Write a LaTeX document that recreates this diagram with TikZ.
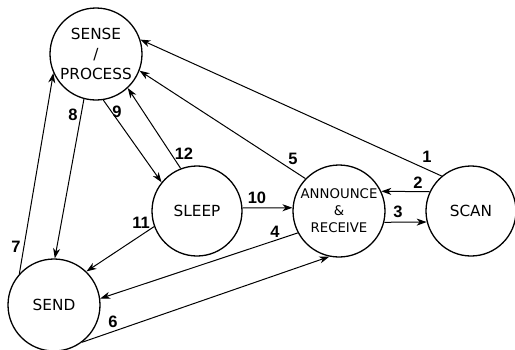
\documentclass[tikz,border=0pt]{standalone}
\usepackage{fontspec}
\setmainfont{DejaVu Sans}
\newfontfamily\lblfont{Liberation Sans}
\usetikzlibrary{arrows.meta}
\begin{document}
\begin{tikzpicture}[x=1pt,y=-1pt,
 state/.style={circle,draw,line width=1.3pt,minimum size=92pt,inner sep=0pt,align=center,font=\fontsize{15.3}{20}\selectfont},
 smallstate/.style={state,font=\fontsize{13.3}{17}\selectfont},
 edge/.style={line width=1pt,-{Stealth[length=10pt,width=7pt,inset=3pt]}},
 lbl/.style={font=\lblfont\bfseries\fontsize{16.5}{16.5}\selectfont,inner sep=0pt}]
\useasboundingbox (0,0) rectangle (515,349);
\node[state] (sense) at (96,54) {SENSE\\/\\PROCESS};
\node[state,minimum size=90pt] (sleep) at (197,211) {SLEEP};
\node[state] (send) at (54,305) {SEND};
\node[smallstate] (ann) at (339,211) {ANNOUNCE\\\&\\RECEIVE};
\node[state,minimum size=90pt] (scan) at (471,211) {SCAN};

\draw[edge] (scan.130) -- (sense.18);
\draw[edge] (scan.155) -- (ann.25);
\draw[edge] (ann.-14) -- (scan.194);
\draw[edge] (ann.136) -- (sense.-21);
\draw[edge] (ann.208) -- (send.8);
\draw[edge] (send.-53) -- (ann.-102);
\draw[edge] (send.138) -- (sense.204);
\draw[edge] (sense.255) -- (send.89);
\draw[edge] (sense.-81) -- (sleep.141);
\draw[edge] (sleep.111) -- (sense.-47);
\draw[edge] (sleep.4) -- (ann.176);
\draw[edge] (sleep.200) -- (send.46);

\node[lbl] (l1) at (427,157) {1};
\node[lbl] (l2) at (418,183) {2};
\node[lbl] (l3) at (398,212) {3};
\node[lbl] (l4) at (275,232) {4};
\node[lbl] (l5) at (293,159) {5};
\node[lbl] (l6) at (113,322) {6};
\node[lbl] (l7) at (16,247) {7};
\node[lbl] (l8) at (73,115) {8};
\node[lbl] (l9) at (117,112) {9};
\node[lbl] (l10) at (257,198) {10};
\node[lbl] (l11) at (141,223) {11};
\node[lbl] (l12) at (184,154) {12};
\end{tikzpicture}
\end{document}
